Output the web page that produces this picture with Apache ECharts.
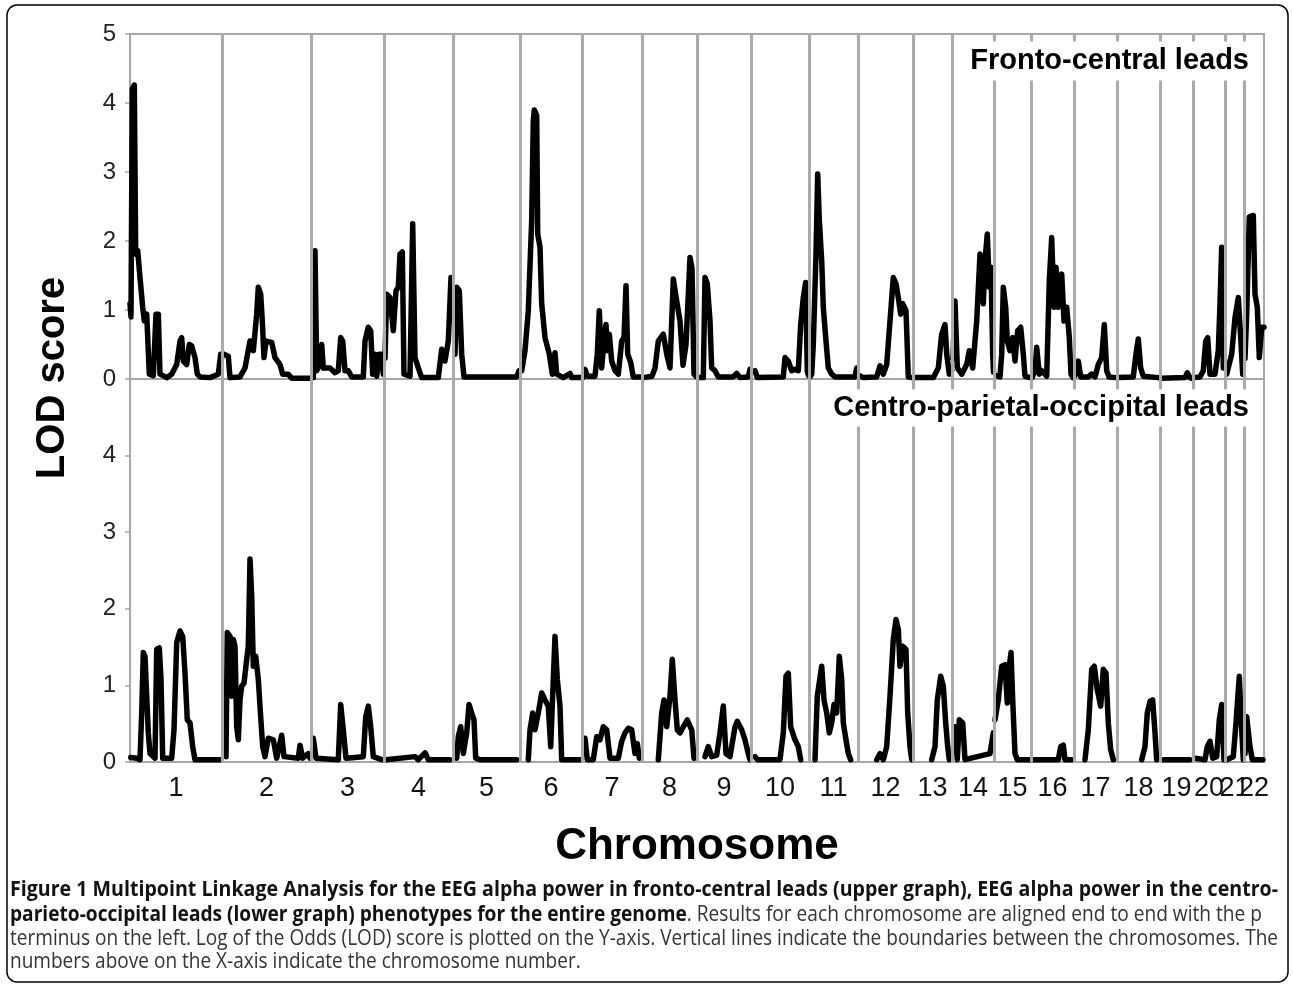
<!DOCTYPE html>
<html>
<head>
<meta charset="utf-8">
<script src="https://cdn.jsdelivr.net/npm/echarts@6/dist/echarts.min.js"></script>
<style>
html,body{margin:0;padding:0;background:#fff;}
#chart{width:1293px;height:987px;}
</style>
</head>
<body>
<div id="chart"></div>
<script>
// ---------- data ----------
const chromNames = ['1','2','3','4','5','6','7','8','9','10','11','12','13','14','15','16','17','18','19','20','21','22'];
// cumulative genome position of chromosome boundaries (map units)
const chromBounds = [0, 92, 181, 254, 323, 390, 452, 512, 567, 621, 679, 728, 783, 822, 864, 901, 944, 987, 1030, 1063, 1095, 1114, 1134];
const yTicks = [0, 1, 2, 3, 4, 5];

// Fronto-central leads: per chromosome [genome position, LOD]
const frontoCentral = [
  [[0,1.09],[1,0.9],[2.3,4.2],[4.3,4.26],[5.7,1.81],[7.7,1.86],[10,1.47],[12.7,1.04],[14.3,0.84],[16.7,0.94],[19.3,0.07],[23.3,0.05],[26,0.94],[28.3,0.94],[30,0.07],[36.7,0.02],[41.7,0.07],[46.7,0.21],[50,0.55],[51.7,0.6],[53.3,0.26],[56.7,0.21],[59.3,0.5],[61.7,0.48],[65,0.31],[67.3,0.07],[70,0.03],[80,0.02],[88.3,0.07],[90.7,0.36],[91.5,0.3]],
  [[94,0.36],[98.3,0.33],[100,0.02],[110,0.03],[115,0.16],[120,0.55],[123.3,0.41],[126.7,0.94],[128.3,1.33],[130.7,1.23],[132.3,0.84],[134,0.31],[136,0.55],[141.7,0.53],[145,0.31],[150,0.21],[152.7,0.07],[158.3,0.07],[161.7,0.01],[180,0.01]],
  [[183.3,0.02],[185,1.86],[186.7,0.12],[189,0.2],[191.7,0.5],[193.3,0.16],[200,0.16],[205,0.09],[208.3,0.12],[210.7,0.6],[212.7,0.55],[215,0.12],[218.3,0.12],[221.7,0.03],[233.3,0.03],[235,0.55],[238.3,0.75],[240.7,0.7],[242.7,0.07],[245,0.36],[246.7,0.04],[249.3,0.36],[251.7,0.36],[253.3,0.07]],
  [[255,0.3],[256.7,1.23],[260,1.18],[263.3,0.7],[266,1.28],[268.3,1.33],[270,1.81],[272.3,1.84],[274,0.07],[280,0.04],[282.7,2.25],[285,0.31],[288.3,0.16],[291.7,0.02],[308.3,0.02],[311.7,0.43],[315,0.26],[318.3,0.55],[321,1.47],[322.7,0.84]],
  [[325,0.36],[326.7,1.33],[329.3,1.28],[331.7,0.36],[334,0.03],[386.7,0.03],[389,0.12]],
  [[391.7,0.12],[395,0.41],[398.3,0.99],[401.7,2.3],[403.3,3.75],[404.3,3.9],[406.7,3.82],[407.7,2.1],[410,1.91],[411.7,1.09],[415,0.6],[419.3,0.36],[422.3,0.07],[425,0.38],[426.7,0.07],[433.3,0.02],[440,0.08],[441.7,0.02],[451.7,0.02]],
  [[453,0.02],[455,0.14],[457.3,0.04],[465,0.04],[467.3,0.36],[469.3,0.99],[471.7,0.16],[474,0.55],[476,0.79],[477.3,0.41],[479.3,0.65],[481.7,0.26],[485,0.12],[488.3,0.07],[491.7,0.55],[494,0.6],[496,1.35],[497.7,0.36],[500.7,0.24],[503.3,0.03],[511.7,0.03]],
  [[513,0.02],[522,0.04],[525,0.16],[528.3,0.55],[533.3,0.65],[536.7,0.36],[540,0.16],[543.3,1.45],[546.7,1.13],[550,0.84],[553,0.2],[556,0.5],[560,1.76],[562,1.6],[564,0.07],[566.5,0.03]],
  [[568,0.02],[573.3,0.02],[575,1.47],[577.3,1.38],[580,0.84],[581.7,0.16],[585,0.12],[588.3,0.03],[603.3,0.03],[606.7,0.08],[610,0.02],[618.3,0.03],[620,0.14]],
  [[622,0.1],[625,0.12],[627.3,0.02],[653.3,0.03],[655,0.31],[658.3,0.26],[661.7,0.12],[665,0.14],[668.3,0.12],[670.7,0.79],[673.3,1.18],[675.7,1.4],[677.3,0.12],[678.5,0.05]],
  [[680,0.03],[681.7,0.07],[683.3,0.5],[686,1.81],[687.7,2.97],[689.3,2.3],[691.7,1.72],[693.3,1.04],[696,0.55],[698.3,0.16],[701.7,0.07],[705,0.03],[725,0.03],[726.7,0.16]],
  [[729,0.05],[730,0.07],[733.3,0.02],[746.7,0.03],[750,0.19],[753.3,0.07],[756.7,0.21],[760,0.84],[763.3,1.47],[766,1.38],[768.3,1.18],[770.7,0.94],[772.7,1.09],[776,0.99],[778.3,0.03],[782,0.02]],
  [[784,0.02],[803.3,0.02],[808.3,0.16],[811.7,0.65],[815,0.79],[816.7,0.36],[819.3,0.07],[821.7,0.12]],
  [[823,0.3],[825,1.13],[827.3,0.16],[831.7,0.07],[836.7,0.21],[839.3,0.41],[842.7,0.16],[846.7,0.84],[850,1.81],[853.3,1.09],[855,1.72],[857.3,2.1],[859.3,1.33],[861,1.62],[862.7,0.36],[863.5,0.1]],
  [[866,0.05],[870,0.03],[871.7,0.36],[873.3,1.33],[875.7,1.04],[877.3,0.55],[880,0.41],[882.7,0.6],[885,0.26],[887.7,0.7],[890.7,0.75],[893.3,0.36],[895,0.04],[900,0.02]],
  [[902,0.02],[905,0.12],[906.7,0.46],[909.3,0.07],[911.7,0.12],[916.7,0.04],[919.3,1.42],[921.7,2.05],[924,1.04],[926,1.62],[928.3,1.04],[931.7,1.52],[934,0.84],[936.7,1.04],[939.3,0.6],[941,0.07],[943,0.02]],
  [[945,0.05],[948.3,0.26],[950.7,0.03],[958.3,0.03],[961.7,0.07],[965,0.03],[968.3,0.21],[971.7,0.31],[974.3,0.79],[976.7,0.12],[979,0.03],[986,0.02]],
  [[988,0.02],[1003.3,0.03],[1006,0.36],[1008.3,0.58],[1010.7,0.16],[1013.3,0.04],[1028.3,0.02]],
  [[1031,0.01],[1055,0.02],[1057.3,0.09],[1060,0.02],[1062,0.01]],
  [[1064,0.02],[1070,0.03],[1073.3,0.12],[1075.7,0.55],[1077.7,0.6],[1080,0.07],[1085,0.07],[1088.3,0.41],[1090,1.09],[1091.7,1.91],[1093.3,0.16]],
  [[1096.7,0.07],[1101.7,0.36],[1105,0.89],[1108.3,1.18],[1110.7,0.6],[1112.7,0.07]],
  [[1115,0.3],[1116.7,0.94],[1119.3,2.35],[1123.3,2.37],[1125,1.23],[1127.3,1.04],[1129.3,0.31],[1131.7,0.75],[1134,0.75]]
];

// Centro-parietal-occipital leads: per chromosome [genome position, LOD]
const centroParietal = [
  [[0.7,0.06],[6.7,0.05],[10,0.03],[11.7,0.64],[13.3,1.43],[15,1.38],[16.7,0.86],[18.3,0.38],[20,0.11],[25,0.05],[26.7,1.47],[29.3,1.49],[31,1.08],[32.7,0.05],[41.7,0.05],[44,0.42],[46.7,1.56],[50,1.71],[52.7,1.64],[55,1.16],[57.3,0.55],[60,0.51],[62.7,0.2],[65,0.03],[90,0.03]],
  [[96,0.07],[97.3,1.69],[100,1.64],[101.7,0.86],[103.3,1.6],[105,1.51],[106.7,0.46],[108.3,0.29],[110,0.81],[111.7,0.99],[114,1.03],[116.7,1.34],[118.3,1.51],[120,2.65],[121.7,2.17],[123.3,1.25],[125.7,1.38],[128.3,1.08],[130.7,0.59],[132.7,0.2],[135,0.07],[138.3,0.31],[143.3,0.29],[146.7,0.05],[151.7,0.35],[154,0.07],[168.3,0.05],[170,0.22],[172.7,0.05],[178.3,0.11],[180,0.05]],
  [[183.3,0.31],[186,0.05],[208.3,0.03],[210.7,0.75],[213.3,0.42],[216,0.05],[233.3,0.07],[235.7,0.59],[238.3,0.73],[240.7,0.46],[243.3,0.07],[251.7,0.03]],
  [[256,0.03],[285,0.07],[288.3,0.03],[295,0.12],[298.3,0.03],[320,0.03]],
  [[326.7,0.05],[328.3,0.33],[330.7,0.46],[333.3,0.11],[336.7,0.38],[339,0.75],[341.7,0.64],[344,0.55],[345.7,0.05],[350,0.03],[386.7,0.03]],
  [[398.3,0.03],[400,0.42],[402.7,0.64],[405,0.42],[408.3,0.64],[411.7,0.9],[415,0.81],[418.3,0.73],[420.7,0.2],[423.3,1.08],[425,1.64],[427.3,1.08],[430,0.73],[431.7,0.03],[450,0.03]],
  [[455,0.31],[457.3,0.03],[463.3,0.03],[466.7,0.33],[470,0.29],[473.3,0.46],[476.7,0.42],[480,0.05],[488.3,0.05],[491.7,0.27],[495,0.38],[498.3,0.44],[501.7,0.42],[505,0.11],[507.3,0.24],[509.3,0.05]],
  [[528.3,0.03],[531.7,0.64],[534,0.81],[536.7,0.46],[540,0.86],[542.3,1.34],[545,0.81],[547.3,0.42],[550,0.38],[553.3,0.46],[557.3,0.55],[561.7,0.42],[564,0.05]],
  [[575,0.07],[578.3,0.2],[581.7,0.07],[586.7,0.09],[590,0.38],[593.3,0.73],[596,0.11],[600,0.07],[605,0.46],[607.3,0.53],[611.7,0.42],[615,0.29],[618.3,0.11],[620,0.03]],
  [[625,0.07],[627.3,0.03],[650,0.03],[653.3,0.38],[656,1.12],[658.3,1.16],[660.7,0.46],[665,0.29],[668.3,0.2],[670.7,0.03]],
  [[685,0.03],[687.3,0.86],[691.7,1.25],[694,0.81],[696.7,0.64],[699.3,0.38],[701.7,0.51],[704,0.75],[706.7,0.64],[709.3,1.38],[711.7,1.08],[713.3,0.51],[716,0.29],[718.3,0.11],[720.7,0.03]],
  [[746.7,0.03],[750,0.11],[753.3,0.03],[756.7,0.2],[760,0.86],[763.3,1.6],[766,1.86],[768.3,1.73],[770,1.25],[772.7,1.51],[776,1.47],[777.7,0.64],[780,0.2],[781.7,0.03]],
  [[801.7,0.03],[805,0.2],[807.3,0.81],[810.7,1.12],[813.3,0.99],[815.7,0.51],[817.7,0.2],[819.3,0.03]],
  [[825,0.46],[827.3,0.03],[829.3,0.55],[832.7,0.51],[835,0.03],[860,0.11],[863.3,0.38]],
  [[865,0.55],[868.3,0.81],[871.7,1.25],[875,1.27],[877.3,0.77],[879.3,1.25],[881,1.43],[882.7,0.81],[885,0.11],[887.3,0.03],[900,0.03]],
  [[903.3,0.03],[928.3,0.03],[930.7,0.2],[933.3,0.22],[935,0.03],[941.7,0.03]],
  [[955,0.03],[958.3,0.42],[961.7,1.21],[964.3,1.25],[967.3,0.94],[970.7,0.73],[973.3,1.21],[976,1.16],[978.3,0.51],[980.7,0.16],[983.3,0.03]],
  [[1011.7,0.03],[1015,0.2],[1017.3,0.64],[1020,0.79],[1022.7,0.81],[1025,0.38],[1026.7,0.03]],
  [[1033.3,0.03],[1060,0.03]],
  [[1065,0.05],[1075,0.03],[1077.3,0.2],[1080,0.27],[1082.7,0.05],[1086.7,0.07],[1089.3,0.55],[1091.7,0.75],[1094,0.03]],
  [[1096.7,0.03],[1103.3,0.07],[1106,0.51],[1109.3,1.12],[1111.7,0.42],[1113.3,0.03]],
  [[1115,0.11],[1116.7,0.59],[1118.3,0.59],[1120,0.2],[1122.3,0.03],[1133,0.03]]
];

const captionLines = [
  'Figure 1 Multipoint Linkage Analysis for the EEG alpha power in fronto-central leads (upper graph), EEG alpha power in the centro-',
  ['parieto-occipital leads (lower graph) phenotypes for the entire genome', '. Results for each chromosome are aligned end to end with the p'],
  'terminus on the left. Log of the Odds (LOD) score is plotted on the Y-axis. Vertical lines indicate the boundaries between the chromosomes. The',
  'numbers above on the X-axis indicate the chromosome number.'
];

// ---------- build ----------
function toSeriesData(chroms) {
  const out = [];
  chroms.forEach((c, i) => {
    c.forEach(p => out.push(p));
    out.push([chromBounds[i + 1], null]); // break between chromosomes
  });
  return out;
}
const centers = chromNames.map((n, i) => (chromBounds[i] + chromBounds[i + 1]) / 2);
const oddCenters = centers.filter((c, i) => i % 2 === 0);   // chromosomes 1,3,5,...
const evenCenters = centers.filter((c, i) => i % 2 === 1);  // chromosomes 2,4,6,...
const innerBounds = chromBounds.slice(1, -1);
const xMax = chromBounds[chromBounds.length - 1];

// caption fitting (condensed like the journal font)
const mctx = document.createElement('canvas').getContext('2d');
function tw(font, s) { mctx.font = font; return mctx.measureText(s).width; }
const capSize = 22;
const fontB = '700 ' + capSize + 'px "Open Sans"';
const fontN = '400 ' + capSize + 'px "Open Sans"';
const sc1 = 1268 / tw(fontB, captionLines[0]);
const sc2 = 1252 / (tw(fontB, captionLines[1][0]) + tw(fontN, captionLines[1][1]));
const sc3 = 1268 / tw(fontN, captionLines[2]);

const axisGray = '#a6a6a6';
const lineStyle = { color: '#000', width: 5.5, cap: 'round', join: 'round' };
const boundaryMark = {
  silent: true,
  symbol: ['none', 'none'],
  label: { show: false },
  lineStyle: { color: '#aaaaaa', width: 3, type: 'solid' },
  emphasis: { disabled: true },
  data: innerBounds.map(x => ({ xAxis: x }))
};
function chromLabelAxis(values, showLine) {
  return {
    type: 'value', gridIndex: 1, position: 'bottom', offset: 0, min: 0, max: xMax,
    axisLine: { show: showLine, onZero: false, lineStyle: { color: axisGray, width: 2 } },
    axisTick: { show: false },
    splitLine: { show: false },
    axisLabel: {
      show: true, customValues: values, hideOverlap: false, showMinLabel: true, showMaxLabel: true, margin: 13,
      fontFamily: '"Liberation Sans", Arial, sans-serif',
      fontSize: 27, color: '#111',
      formatter: function (v) {
        const i = centers.findIndex(c => Math.abs(c - v) < 0.01);
        return i >= 0 ? chromNames[i] : '';
      }
    }
  };
}

const chart = echarts.init(document.getElementById('chart'), null, { renderer: 'canvas' });
const option = {
  animation: false,
  backgroundColor: '#fff',
  grid: [
    { left: 130, top: 34, width: 1134, height: 345, show: true, borderColor: axisGray, borderWidth: 2, backgroundColor: '#fff' },
    { left: 130, top: 379, width: 1134, height: 383, show: true, borderColor: axisGray, borderWidth: 2, backgroundColor: '#fff' }
  ],
  xAxis: [
    { type: 'value', gridIndex: 0, min: 0, max: xMax, axisLine: { show: false }, axisTick: { show: false }, axisLabel: { show: false }, splitLine: { show: false } },
    chromLabelAxis(oddCenters, true),
    chromLabelAxis(evenCenters, false)
  ],
  yAxis: [
    { type: 'value', gridIndex: 0, min: yTicks[0], max: yTicks[yTicks.length - 1], interval: 1,
      axisLine: { show: true, lineStyle: { color: axisGray, width: 2 } },
      axisTick: { show: true, length: 5, lineStyle: { color: axisGray, width: 1.5 } },
      splitLine: { show: false },
      axisLabel: { fontFamily: '"Liberation Sans", Arial, sans-serif', fontSize: 24, color: '#222', margin: 14, showMinLabel: true, showMaxLabel: true } },
    { type: 'value', gridIndex: 1, min: yTicks[0], max: yTicks[yTicks.length - 1], interval: 1,
      axisLine: { show: true, lineStyle: { color: axisGray, width: 2 } },
      axisTick: { show: true, length: 5, lineStyle: { color: axisGray, width: 1.5 } },
      splitLine: { show: false },
      axisLabel: { fontFamily: '"Liberation Sans", Arial, sans-serif', fontSize: 24, color: '#222', margin: 14,
        formatter: v => (v === 5 ? '' : String(v)) } }
  ],
  series: [
    { name: 'Fronto-central leads', type: 'line', xAxisIndex: 0, yAxisIndex: 0, data: toSeriesData(frontoCentral),
      showSymbol: false, symbol: 'none', connectNulls: false, lineStyle: lineStyle, markLine: boundaryMark, z: 3 },
    { name: 'Centro-parietal-occipital leads', type: 'line', xAxisIndex: 1, yAxisIndex: 1, data: toSeriesData(centroParietal),
      showSymbol: false, symbol: 'none', connectNulls: false, lineStyle: lineStyle, markLine: boundaryMark, z: 3 }
  ],
  graphic: [
    { type: 'rect', z: 0, silent: true, shape: { x: 7, y: 5, width: 1281, height: 977, r: 10 },
      style: { fill: 'none', stroke: '#000', lineWidth: 1.5 } },
    { type: 'text', z: 100, x: 1254, y: 61, silent: true,
      style: { text: 'Fronto-central leads', font: 'bold 29px "Liberation Sans", Arial, sans-serif', fill: '#000',
               align: 'right', verticalAlign: 'middle', backgroundColor: '#fff', padding: [5, 5, 5, 8] } },
    { type: 'text', z: 100, x: 1254, y: 408, silent: true,
      style: { text: 'Centro-parietal-occipital leads', font: 'bold 29px "Liberation Sans", Arial, sans-serif', fill: '#000',
               align: 'right', verticalAlign: 'middle', backgroundColor: '#fff', padding: [4, 5, 4, 8] } },
    { type: 'text', z: 100, x: 53, y: 378, rotation: Math.PI / 2, silent: true,
      style: { text: 'LOD score', font: 'bold 40px "Liberation Sans", Arial, sans-serif', fill: '#000',
               align: 'center', verticalAlign: 'middle' } },
    { type: 'text', z: 100, x: 697, y: 847, silent: true,
      style: { text: 'Chromosome', font: 'bold 44px "Liberation Sans", Arial, sans-serif', fill: '#000',
               align: 'center', verticalAlign: 'middle' } },
    { type: 'text', z: 100, x: 10, y: 890, scaleX: sc1, silent: true,
      style: { text: captionLines[0], font: fontB, fill: '#111', align: 'left', verticalAlign: 'middle' } },
    { type: 'text', z: 100, x: 10, y: 915, scaleX: sc2, silent: true,
      style: { text: '{b|' + captionLines[1][0] + '}{n|' + captionLines[1][1] + '}', align: 'left', verticalAlign: 'middle',
               rich: { b: { font: fontB, fill: '#111' }, n: { font: fontN, fill: '#333' } } } },
    { type: 'text', z: 100, x: 10, y: 939, scaleX: sc3, silent: true,
      style: { text: captionLines[2], font: fontN, fill: '#333', align: 'left', verticalAlign: 'middle' } },
    { type: 'text', z: 100, x: 10, y: 962, scaleX: sc3, silent: true,
      style: { text: captionLines[3], font: fontN, fill: '#333', align: 'left', verticalAlign: 'middle' } }
  ]
};
chart.setOption(option);
</script>
</body>
</html>
